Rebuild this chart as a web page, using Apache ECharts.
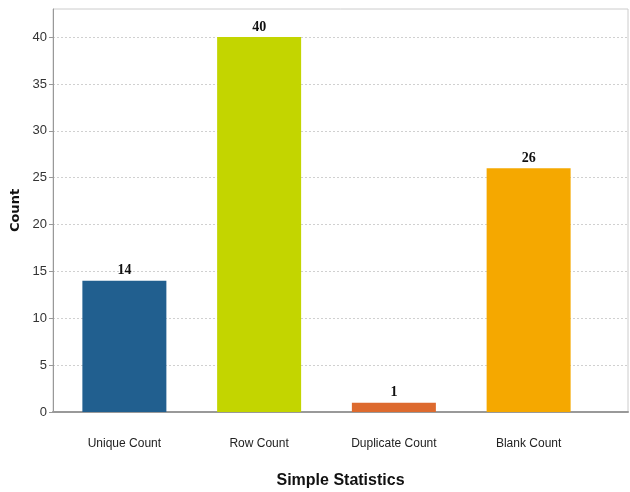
<!DOCTYPE html>
<html>
<head>
<meta charset="utf-8">
<script src="https://cdn.jsdelivr.net/npm/echarts@6/dist/echarts.min.js"></script>
<style>
  html, body { margin: 0; padding: 0; background: #fff; }
  #chart { width: 630px; height: 492px; }
</style>
</head>
<body>
<div id="chart"></div>
<script>
  const categories = ['Unique Count', 'Row Count', 'Duplicate Count', 'Blank Count'];
  const counts = [14, 40, 1, 26];
  const barColors = ['#215f8f', '#c3d500', '#dd6a2e', '#f5a800'];
  const yTicks = [0, 5, 10, 15, 20, 25, 30, 35, 40];

  const narrow = '"Liberation Sans Narrow", "Arial Narrow", "Liberation Sans", sans-serif';

  let myChart = echarts.init(document.getElementById('chart'));
  myChart.setOption({
    animation: false,
    // grid 0 = outer frame with y scale, grid 1 = category bands
    grid: [
      { left: 53, top: 9, right: 2, bottom: 80, outerBoundsMode: 'none',
        show: true, borderColor: '#cccccc', borderWidth: 1 },
      { left: 57, top: 9, width: 539, bottom: 80, outerBoundsMode: 'none' }
    ],
    xAxis: [
      {
        gridIndex: 0, type: 'value', min: 0, max: 1,
        name: 'Simple Statistics', nameLocation: 'middle', nameGap: 61,
        nameTextStyle: { fontFamily: narrow, fontWeight: 'bold', fontSize: 16, color: '#111' },
        axisLine: { show: true, lineStyle: { color: '#999', width: 2 } },
        axisTick: { show: false }, axisLabel: { show: false }, splitLine: { show: false }
      },
      {
        gridIndex: 1, type: 'category', data: categories,
        axisLine: { show: false }, axisTick: { show: false },
        axisLabel: { margin: 26, fontFamily: narrow, fontSize: 12, color: '#222' }
      }
    ],
    yAxis: [
      {
        gridIndex: 0, type: 'value', min: 0, max: 43, interval: 5,
        name: 'Count', nameLocation: 'middle', nameGap: 28, nameRotate: 90,
        nameTextStyle: { fontFamily: '"DejaVu Sans", sans-serif', fontWeight: 'bold', fontSize: 13, color: '#111' },
        axisLine: { show: true, lineStyle: { color: '#999' } },
        axisTick: { show: true, length: 4, customValues: yTicks, lineStyle: { color: '#999' } },
        axisLabel: {
          margin: 6, fontFamily: narrow, fontSize: 13, color: '#333', customValues: yTicks
        },
        splitLine: { show: true, lineStyle: { color: '#d0d0d0', type: [2, 2] } }
      },
      { gridIndex: 1, type: 'value', min: 0, max: 43, show: false }
    ],
    series: [
      {
        type: 'bar',
        xAxisIndex: 1,
        yAxisIndex: 1,
        barWidth: 84,
        data: counts.map((v, i) => ({ value: v, itemStyle: { color: barColors[i] } })),
        label: {
          show: true, position: 'top', distance: 3,
          fontFamily: '"Liberation Serif", serif', fontWeight: 'bold', fontSize: 14, color: '#111'
        }
      }
    ]
  });
</script>
</body>
</html>
